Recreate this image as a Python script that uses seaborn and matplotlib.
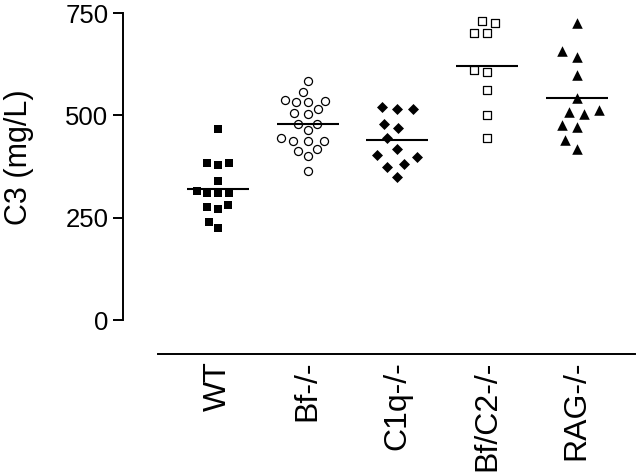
import matplotlib
matplotlib.use("Agg")
import matplotlib.pyplot as plt
import seaborn as sns
import pandas as pd

# C3 serum levels (mg/L)
groups = ["WT", "Bf-/-", "C1q-/-", "Bf/C2-/-", "RAG-/-"]
wt = [466, 383, 378, 383, 340, 311, 311, 311, 314, 275, 270, 282, 240, 225]
bf = [585, 556, 537, 533, 532, 536, 515, 503, 505, 480, 480, 464, 438, 437,
      438, 445, 414, 401, 418, 365]
c1q = [515, 515, 520, 480, 470, 445, 418, 403, 381, 399, 375, 349]
bfc2 = [725, 731, 700, 700, 611, 607, 562, 501, 444]
rag = [726, 643, 656, 599, 542, 509, 513, 503, 476, 472, 440, 417]

df = pd.DataFrame({
    "group": sum([[g] * len(v) for g, v in zip(groups, [wt, bf, c1q, bfc2, rag])], []),
    "C3": wt + bf + c1q + bfc2 + rag,
})

sns.set_style("ticks")
plt.rcParams["font.family"] = ["Liberation Sans", "DejaVu Sans"]
plt.rcParams["text.color"] = "black"
plt.rcParams["axes.labelcolor"] = "black"

fig = plt.figure(figsize=(6.4, 4.73), dpi=100)
ax = fig.add_axes([158 / 640, 1 - 320 / 473, 477 / 640, 307 / 473])

# marker style per group (filled / open); "spread" is the size used for the
# swarm layout so the dots sit a bit apart like in the original
styles = {
    "WT": dict(marker="s", color="black"),
    "Bf-/-": dict(marker="o", color="white", edgecolor="black", linewidth=0.9),
    "C1q-/-": dict(marker="D", color="black"),
    "Bf/C2-/-": dict(marker="s", color="white", edgecolor="black", linewidth=0.9),
    "RAG-/-": dict(marker="^", color="black"),
}
marker_size = {"WT": 5.6, "Bf-/-": 5.8, "C1q-/-": 5.6, "Bf/C2-/-": 5.4, "RAG-/-": 7.6}
spread_size = {"WT": 7.4, "Bf-/-": 7.0, "C1q-/-": 10.5, "Bf/C2-/-": 8.2, "RAG-/-": 10.5}

swarms = {}
for g in groups:
    n_before = len(ax.collections)
    sns.swarmplot(data=df[df["group"] == g], x="group", y="C3", order=groups,
                  ax=ax, size=spread_size[g], **styles[g])
    swarms[g] = ax.collections[n_before:]

ax.set_xlim(-0.67, 4.65)
ax.set_ylim(0, 750)

# lay the swarms out with the wide size, then freeze and shrink the markers
fig.canvas.draw()
for g, colls in swarms.items():
    for coll in colls:
        coll.__dict__.pop("draw", None)
        coll.set_sizes([marker_size[g] ** 2])

# group means as horizontal bars
sns.pointplot(data=df, x="group", y="C3", order=groups, estimator="mean",
              errorbar=None, markers="_", markersize=44, markeredgewidth=1.5,
              linestyles="none", color="black", ax=ax, zorder=5)

ax.set_xlim(-0.67, 4.65)
ax.set_ylim(0, 750)
ax.set_yticks([0, 250, 500, 750])
ax.set_xlabel("")
ax.set_ylabel("C3 (mg/L)", fontsize=22, color="black")
ax.yaxis.set_label_coords(-0.26, 0.53)

sns.despine(ax=ax, offset={"left": 25, "bottom": 24.5})
for side in ["left", "bottom"]:
    ax.spines[side].set_linewidth(1.4)
    ax.spines[side].set_color("black")

ax.tick_params(axis="y", length=7.2, width=1.4, labelsize=18.5, pad=3.5, colors="black")
ax.tick_params(axis="x", length=0, labelsize=23, pad=5, colors="black")
plt.setp(ax.get_xticklabels(), rotation=90)

fig.savefig("out.png", dpi=100, facecolor="white")
